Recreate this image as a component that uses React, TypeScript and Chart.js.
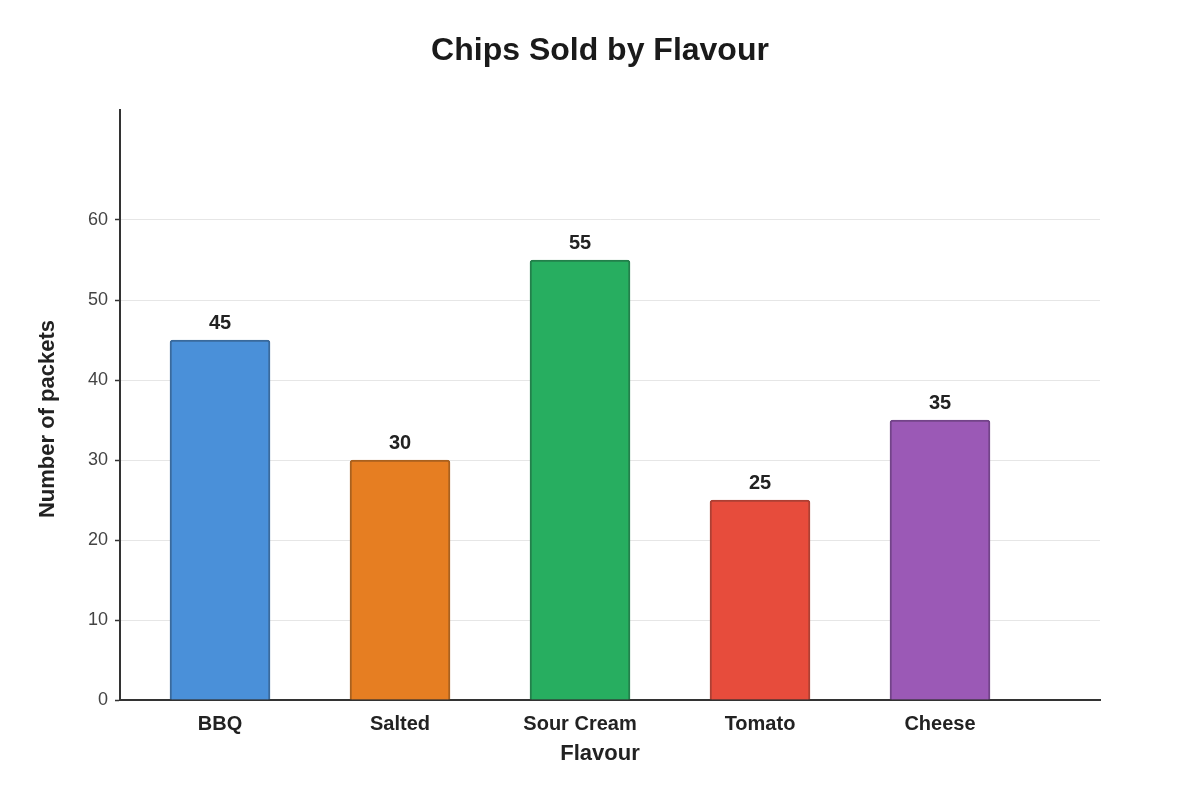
import { useEffect, useRef } from 'react'
import { Chart, registerables } from 'chart.js'
import type { Plugin } from 'chart.js'

Chart.register(...registerables)

const flavours = ['BBQ', 'Salted', 'Sour Cream', 'Tomato', 'Cheese']
const packets = [45, 30, 55, 25, 35]
const fillColours = ['#4A90D9', '#E67E22', '#27AE60', '#E74C3C', '#9B59B6']
const edgeColours = ['#3A6A9C', '#A9611F', '#23804B', '#AD4034', '#734489']
const yTicks = [0, 10, 20, 30, 40, 50, 60]

const FONT = '"Liberation Sans", Arial, Helvetica, sans-serif'

// value labels above each bar
const valueLabels: Plugin<'bar'> = {
  id: 'valueLabels',
  afterDatasetsDraw(chart) {
    const { ctx } = chart
    const meta = chart.getDatasetMeta(0)
    ctx.save()
    ctx.font = `bold 20px ${FONT}`
    ctx.fillStyle = '#222222'
    ctx.textAlign = 'center'
    ctx.textBaseline = 'middle'
    meta.data.forEach((bar, i) => {
      ctx.fillText(String(packets[i]), bar.x, bar.y - 17)
    })
    ctx.restore()
  }
}

// axis titles, placed like the original (not centred on the plot area)
const axisTitles: Plugin<'bar'> = {
  id: 'axisTitles',
  afterDraw(chart) {
    const { ctx } = chart
    ctx.save()
    ctx.font = `bold 22px ${FONT}`
    ctx.fillStyle = '#222222'
    ctx.textAlign = 'center'
    ctx.textBaseline = 'middle'
    ctx.fillText('Flavour', 600, 754)
    ctx.translate(48, 419)
    ctx.rotate(-Math.PI / 2)
    ctx.fillText('Number of packets', 0, 0)
    ctx.restore()
  }
}

export default function App() {
  const canvasRef = useRef<HTMLCanvasElement>(null)

  useEffect(() => {
    document.body.style.margin = '0'
    if (!canvasRef.current) return

    const chart = new Chart(canvasRef.current, {
      type: 'bar',
      data: {
        datasets: [
          {
            data: packets.map((v, i) => ({ x: i, y: v })),
            backgroundColor: fillColours,
            borderColor: edgeColours,
            borderWidth: 2,
            borderRadius: { topLeft: 3, topRight: 3, bottomLeft: 0, bottomRight: 0 },
            borderSkipped: 'bottom',
            barThickness: 100
          }
        ]
      },
      options: {
        animation: false,
        responsive: true,
        maintainAspectRatio: false,
        layout: { padding: 0 },
        plugins: {
          legend: { display: false },
          tooltip: { enabled: false },
          title: {
            display: true,
            text: 'Chips Sold by Flavour',
            color: '#1a1a1a',
            font: { family: FONT, size: 32, weight: 'bold' },
            padding: { top: 32, bottom: 39.6 }
          }
        },
        scales: {
          x: {
            type: 'linear',
            offset: false,
            min: -0.5556,
            max: 4.8889,
            afterBuildTicks(scale) {
              scale.ticks = flavours.map((_, i) => ({ value: i }))
            },
            afterFit(scale) {
              scale.height = 100
            },
            grid: { display: false, drawTicks: false, offset: false },
            border: { display: true, color: '#333333', width: 2 },
            ticks: {
              padding: 12,
              color: '#222222',
              font: { family: FONT, size: 20, weight: 'bold' },
              autoSkip: false,
              maxRotation: 0,
              callback: (value) => flavours[Number(value)] ?? ''
            }
          },
          y: {
            min: 0,
            max: 73.75,
            afterBuildTicks(scale) {
              scale.ticks = yTicks.map((v) => ({ value: v }))
            },
            afterFit(scale) {
              scale.width = 120
            },
            grid: {
              color: '#e6e6e6',
              lineWidth: 1,
              tickColor: '#333333',
              tickLength: 5,
              tickWidth: 1.5
            },
            border: { display: true, color: '#333333', width: 2 },
            ticks: {
              padding: 7,
              color: '#444444',
              font: { family: FONT, size: 18 }
            }
          },
          // empty right-hand margin so the title stays centred on the page
          spacer: {
            type: 'linear',
            position: 'right',
            min: 0,
            max: 73.75,
            afterFit(scale) {
              scale.width = 100
            },
            grid: { display: false, drawTicks: false },
            border: { display: false },
            ticks: { display: false }
          }
        }
      },
      plugins: [valueLabels, axisTitles]
    })

    return () => {
      chart.destroy()
    }
  }, [])

  return (
    <div style={{ position: 'relative', width: '1200px', height: '800px', background: '#ffffff' }}>
      <canvas ref={canvasRef}></canvas>
    </div>
  )
}
